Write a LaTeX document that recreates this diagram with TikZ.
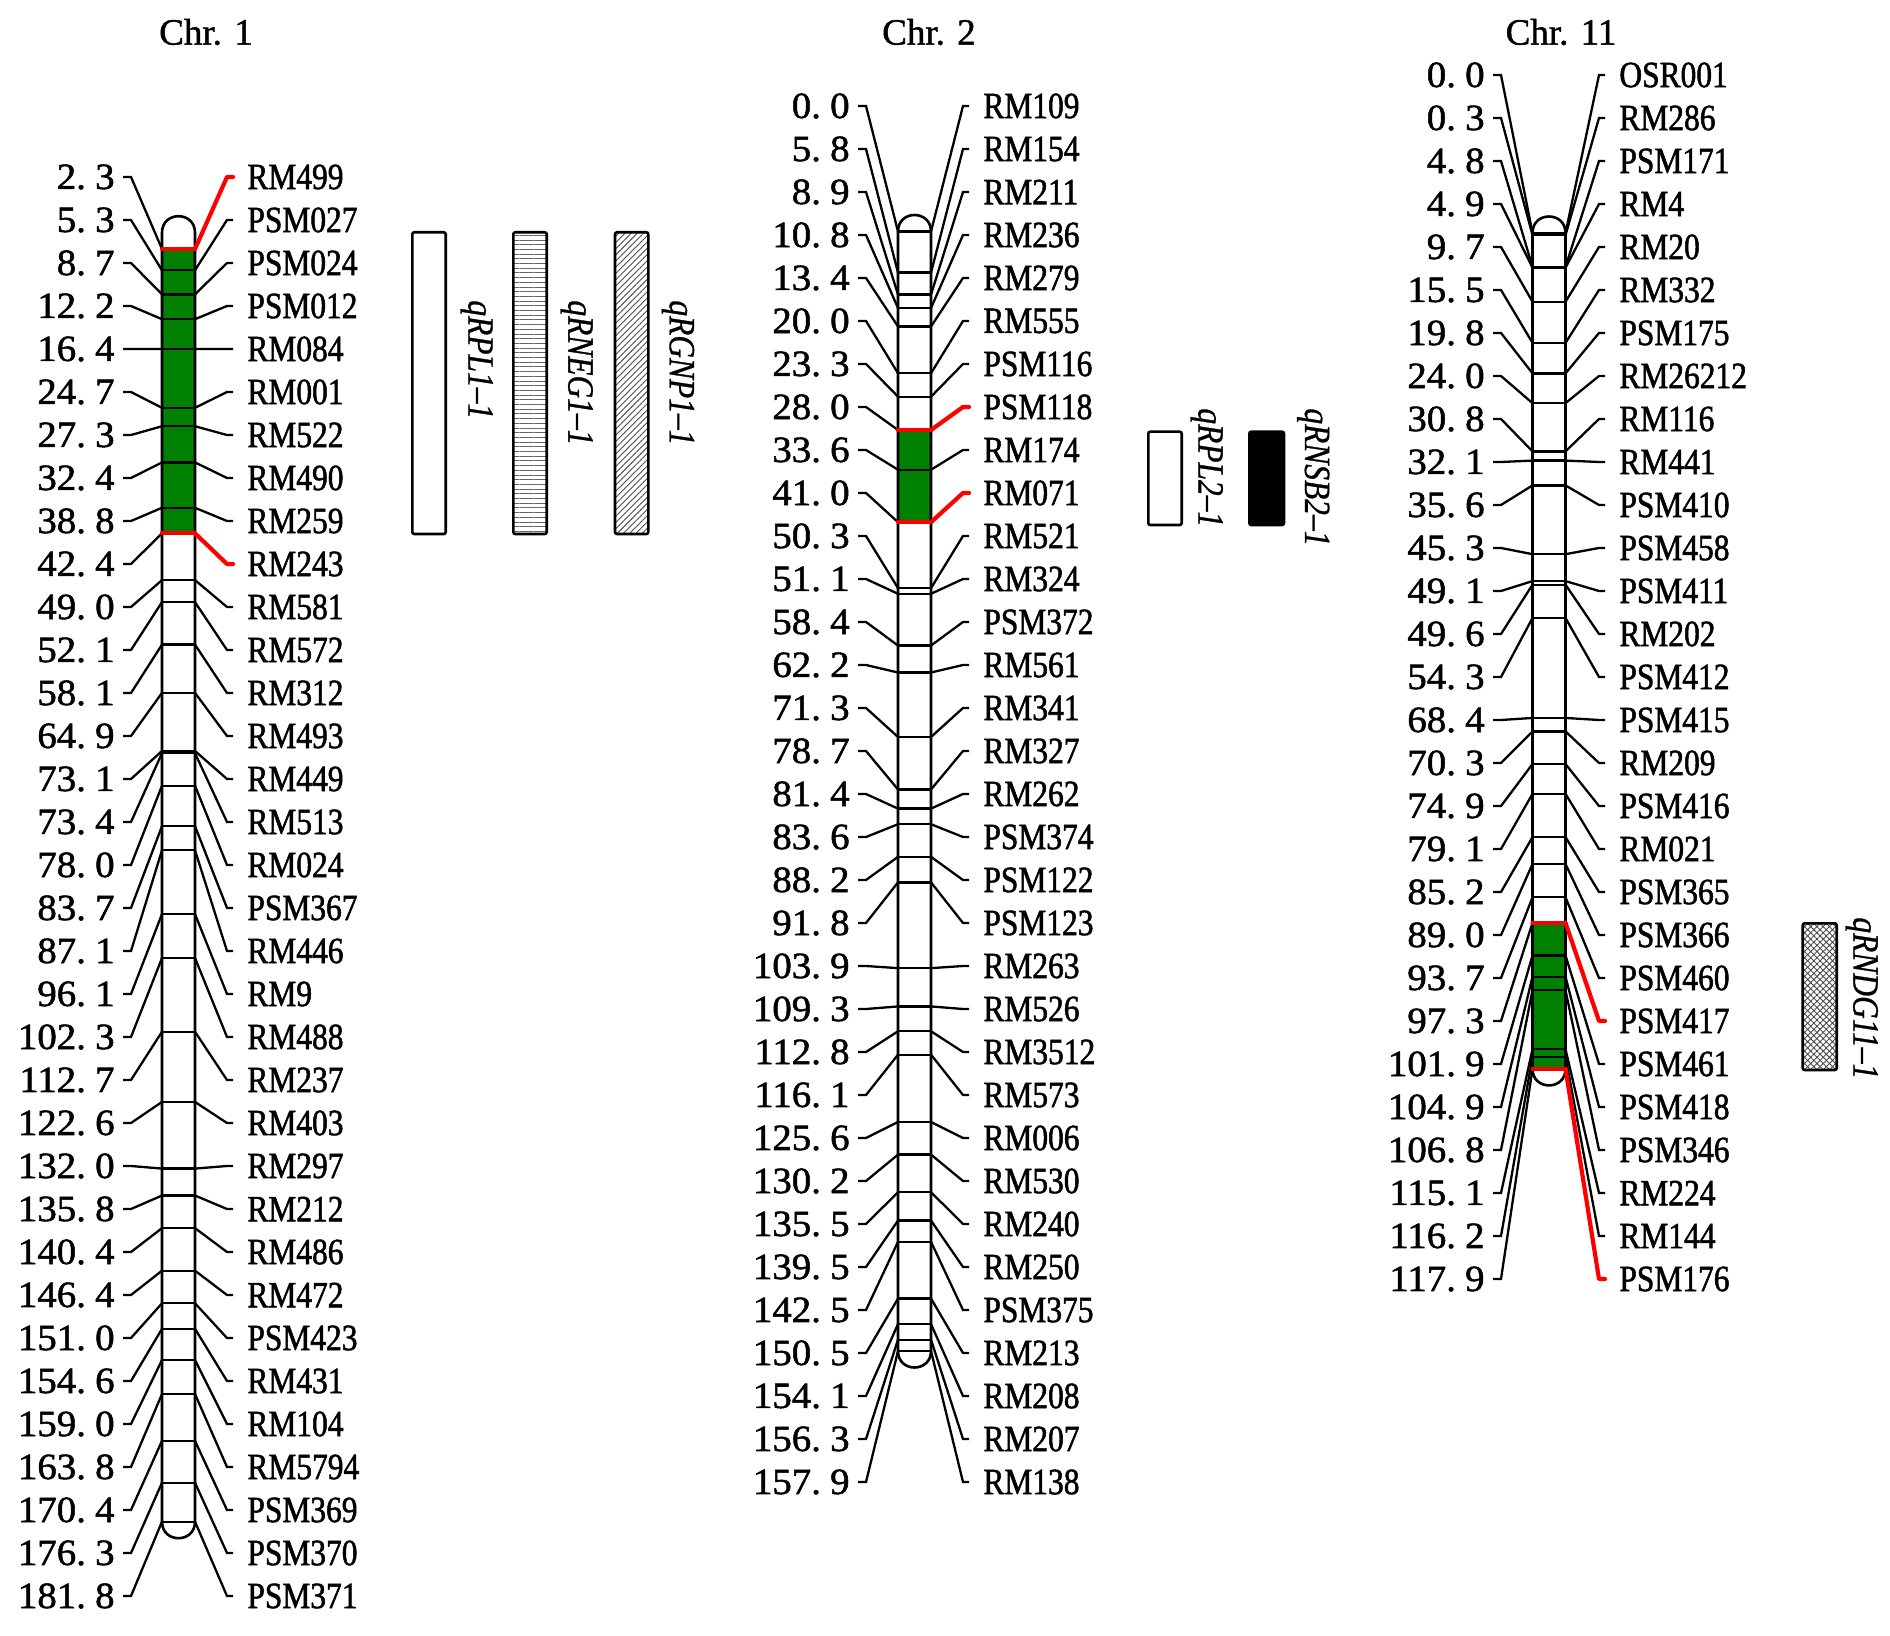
\documentclass[tikz,border=0pt]{standalone}
\usepackage{fontspec}
\setmainfont{Liberation Serif}[FakeBold=1.2]
\newfontfamily\numfont{Liberation Serif}[FakeStretch=1.05,FakeBold=1.4]
\newfontfamily\lblfont{Liberation Serif}[FakeStretch=0.85,FakeBold=1.4]
\newfontfamily\qfont{Liberation Serif}[FakeStretch=0.85,FakeBold=0.8]
\usetikzlibrary{patterns.meta}
\definecolor{qgreen}{RGB}{0,128,0}
\definecolor{qred}{RGB}{255,0,0}
\def\nmx#1.#2\relax{#1.\kern0.25em#2}
\newcommand\nmb[1]{\expandafter\nmx#1\relax}
% #1 id, #2 xL, #3 xR, #4 y0, #5 row0, #6 num tick start, #7 label tick end, #8 list
\newcommand\chrmarkers[8]{%
 \foreach \cmv/\lab/\s [count=\i from 0] in {#8}{%
   \pgfmathsetmacro\yc{#4+\cmv*7.09}%
   \pgfmathsetmacro\yr{#5+43*\i}%
   \node[numtxt] (n#1-\i) at (#6,\yr) {\nmb\cmv};
   \node[lbltxt] (m#1-\i) at (#7,\yr) {\lab};
   \coordinate (l#1-\i) at (#2,\yc);
   \coordinate (r#1-\i) at (#3,\yc);
   \draw[cn] (n#1-\i.east) -- ++(8,0) -- (l#1-\i);
   \draw[\s] (l#1-\i) -- (r#1-\i);
   \draw[\s] (r#1-\i) -- ([xshift=-3pt]m#1-\i.west) -- (m#1-\i.west);
 }}
\newcommand\chrbody[4]{% xL, xR, ytop, yend
  \draw[chrom] (#1,#3) .. controls (#1,{#3-22}) and (#2,{#3-22}) .. (#2,#3)
     -- (#2,#4) .. controls (#2,{#4+22}) and (#1,{#4+22}) .. (#1,#4) -- cycle;}
\begin{document}
\begin{tikzpicture}[x=0.5pt,y=-0.5pt,
  numtxt/.style={font=\numfont\fontsize{18.5}{20}\selectfont, anchor=east, inner xsep=4pt, inner ysep=0pt},
  lbltxt/.style={font=\lblfont\fontsize{18.5}{20}\selectfont, anchor=west, inner xsep=7pt, inner ysep=0pt},
  ttl/.style={font=\fontsize{18.5}{20}\selectfont, inner sep=0pt},
  qlbl/.style={font=\qfont\itshape\fontsize{18.5}{20}\selectfont, rotate=-90, anchor=west, inner sep=0pt},
  cn/.style={draw=black, line width=1.15pt},
  cr/.style={draw=qred, line width=2.1pt, line cap=round, line join=round},
  chrom/.style={draw=black, line width=1.3pt},
  bar/.style={draw=black, line width=1.3pt, rounded corners=1pt}]
\useasboundingbox (0,0) rectangle (1890,1636);

% titles
\node[ttl] (t1) at (206,32) {Chr. 1};
\node[ttl] (t2) at (929,32) {Chr. 2};
\node[ttl] (t11) at (1561,32) {Chr. 11};

% Chr 1
\fill[qgreen] (162,{232.7+2.3*7.09}) rectangle (195,{232.7+42.4*7.09});
\chrbody{162}{195}{232.7}{1521.7}
\chrmarkers{1}{162}{195}{232.7}{177}{123}{233}{2.3/RM499/cr, 5.3/PSM027/cn, 8.7/PSM024/cn, 12.2/PSM012/cn, 16.4/RM084/cn, 24.7/RM001/cn, 27.3/RM522/cn, 32.4/RM490/cn, 38.8/RM259/cn, 42.4/RM243/cr, 49.0/RM581/cn, 52.1/RM572/cn, 58.1/RM312/cn, 64.9/RM493/cn, 73.1/RM449/cn, 73.4/RM513/cn, 78.0/RM024/cn, 83.7/PSM367/cn, 87.1/RM446/cn, 96.1/RM9/cn, 102.3/RM488/cn, 112.7/RM237/cn, 122.6/RM403/cn, 132.0/RM297/cn, 135.8/RM212/cn, 140.4/RM486/cn, 146.4/RM472/cn, 151.0/PSM423/cn, 154.6/RM431/cn, 159.0/RM104/cn, 163.8/RM5794/cn, 170.4/PSM369/cn, 176.3/PSM370/cn, 181.8/PSM371/cn}

% Chr 2
\fill[qgreen] (898,{231.5+28.0*7.09}) rectangle (931,{231.5+41.0*7.09});
\chrbody{898}{931}{231.5}{1351}
\chrmarkers{2}{898}{931}{231.5}{106}{858}{969}{0.0/RM109/cn, 5.8/RM154/cn, 8.9/RM211/cn, 10.8/RM236/cn, 13.4/RM279/cn, 20.0/RM555/cn, 23.3/PSM116/cn, 28.0/PSM118/cr, 33.6/RM174/cn, 41.0/RM071/cr, 50.3/RM521/cn, 51.1/RM324/cn, 58.4/PSM372/cn, 62.2/RM561/cn, 71.3/RM341/cn, 78.7/RM327/cn, 81.4/RM262/cn, 83.6/PSM374/cn, 88.2/PSM122/cn, 91.8/PSM123/cn, 103.9/RM263/cn, 109.3/RM526/cn, 112.8/RM3512/cn, 116.1/RM573/cn, 125.6/RM006/cn, 130.2/RM530/cn, 135.5/RM240/cn, 139.5/RM250/cn, 142.5/PSM375/cn, 150.5/RM213/cn, 154.1/RM208/cn, 156.3/RM207/cn, 157.9/RM138/cn}

% Chr 11
\fill[qgreen] (1532.5,{233+97.3*7.09}) rectangle (1565.5,{233+117.9*7.09});
\chrbody{1532.5}{1565.5}{233}{1068.9}
\chrmarkers{11}{1532.5}{1565.5}{233}{75}{1493}{1605}{0.0/OSR001/cn, 0.3/RM286/cn, 4.8/PSM171/cn, 4.9/RM4/cn, 9.7/RM20/cn, 15.5/RM332/cn, 19.8/PSM175/cn, 24.0/RM26212/cn, 30.8/RM116/cn, 32.1/RM441/cn, 35.6/PSM410/cn, 45.3/PSM458/cn, 49.1/PSM411/cn, 49.6/RM202/cn, 54.3/PSM412/cn, 68.4/PSM415/cn, 70.3/RM209/cn, 74.9/PSM416/cn, 79.1/RM021/cn, 85.2/PSM365/cn, 89.0/PSM366/cn, 93.7/PSM460/cn, 97.3/PSM417/cr, 101.9/PSM461/cn, 104.9/PSM418/cn, 106.8/PSM346/cn, 115.1/RM224/cn, 116.2/RM144/cn, 117.9/PSM176/cr}

% QTL bars, Chr 1
\draw[bar] (412.3,232.3) rectangle (445.7,534);
\draw[bar, pattern={Lines[angle=0,distance=2.35pt,line width=0.5pt]}, pattern color=black!60] (513.3,232.3) rectangle (546.7,534);
\draw[bar, pattern={Lines[angle=45,distance=2.2pt,line width=0.45pt]}, pattern color=black!70] (615,232.3) rectangle (648.3,534);
\node[qlbl] (q1) at (476.7,300) {qRPL1–1};
\node[qlbl] (q2) at (576.7,300) {qRNEG1–1};
\node[qlbl] (q3) at (678,300) {qRGNP1–1};

% QTL bars, Chr 2
\draw[bar] (1148.3,431.7) rectangle (1181.7,525);
\draw[bar, fill=black] (1249.3,431.7) rectangle (1284,525);
\node[qlbl] (q4) at (1206.7,408) {qRPL2–1};
\node[qlbl] (q5) at (1313.3,408) {qRNSB2–1};

% QTL bar, Chr 11
\draw[bar, pattern={Hatch[angle=45,distance=2.2pt,line width=0.45pt]}, pattern color=black!70] (1802.7,923.3) rectangle (1836.7,1070);
\node[qlbl] (q6) at (1861.7,917) {qRNDG11–1};
\end{tikzpicture}
\end{document}
